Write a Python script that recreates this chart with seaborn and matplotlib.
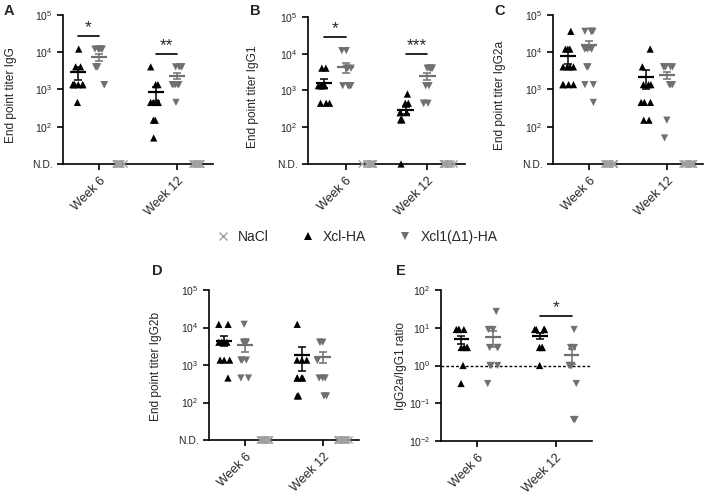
import numpy as np
import pandas as pd
import matplotlib
matplotlib.use("Agg")
import matplotlib.pyplot as plt
import seaborn as sns
from matplotlib.lines import Line2D
from matplotlib.ticker import FixedLocator, FixedFormatter, NullLocator

np.random.seed(3)  # fixed jitter

ND = 10  # "not detected" titers sit on the x axis line

weeks = ["Week 6", "Week 12"]
groups = ["Xcl-HA", "Xcl1(Δ1)-HA", "NaCl"]
colors = {"Xcl-HA": "black", "Xcl1(Δ1)-HA": "#707070", "NaCl": "#a0a0a0"}
markers = {"Xcl-HA": "^", "Xcl1(Δ1)-HA": "v", "NaCl": "x"}

nacl_w6 = [ND, ND, ND, ND, ND, ND, ND, ND, ND, ND]
nacl_w12 = [ND, ND, ND, ND, ND, ND, ND, ND, ND, ND]

# A - IgG
igg_w6_xcl = [12150, 4050, 4050, 1350, 1350, 1350, 1350, 1350, 1350, 450]
igg_w6_xcl1 = [12150, 12150, 12150, 12150, 12150, 4050, 4050, 4050, 1350, 1350]
igg_w12_xcl = [4050, 1350, 1350, 450, 450, 450, 450, 450, 150, 150, 50]
igg_w12_xcl1 = [4050, 4050, 4050, 4050, 1350, 1350, 1350, 1350, 1350, 450]

# B - IgG1
igg1_w6_xcl = [4050, 4050, 1350, 1350, 1350, 1350, 1350, 450, 450, 450]
igg1_w6_xcl1 = [12150, 12150, 4050, 4050, 4050, 1350, 1350, 1350, 1350, 1350]
igg1_w12_xcl = [800, 450, 450, 250, 250, 250, 160, 160, 160, ND]
igg1_w12_xcl1 = [4050, 4050, 4050, 4050, 4050, 1350, 1350, 450, 450, 450]

# C - IgG2a
igg2a_w6_xcl = [36450, 12150, 12150, 12150, 4050, 4050, 4050, 4050, 1350, 1350, 1350, 1350]
igg2a_w6_xcl1 = [36450, 36450, 36450, 36450, 12150, 12150, 12150, 4050, 4050, 1350, 1350, 450]
igg2a_w12_xcl = [12150, 4050, 1350, 1350, 1350, 450, 450, 450, 150, 150]
igg2a_w12_xcl1 = [4050, 4050, 4050, 4050, 4050, 1350, 1350, 1350, 150, 50]

# D - IgG2b
igg2b_w6_xcl = [12150, 12150, 4050, 4050, 4050, 4050, 1350, 1350, 1350, 450]
igg2b_w6_xcl1 = [12150, 4050, 4050, 4050, 4050, 1350, 1350, 1350, 450, 450]
igg2b_w12_xcl = [12150, 1350, 1350, 1350, 450, 450, 450, 450, 150, 150]
igg2b_w12_xcl1 = [4050, 4050, 4050, 1350, 1350, 450, 450, 450, 150, 150]

# E - IgG2a/IgG1 ratio
ratio_w6_xcl = [9, 9, 9, 9, 3, 3, 3, 3, 1, 1 / 3]
ratio_w6_xcl1 = [27, 9, 9, 3, 3, 3, 1, 1, 1, 1 / 3]
ratio_w12_xcl = [9, 9, 9, 9, 9, 3, 3, 3, 1]
ratio_w12_xcl1 = [9, 3, 3, 1, 1, 1, 1, 1 / 3, 1 / 27, 1 / 27]

titer_ticks = [ND, 1e2, 1e3, 1e4, 1e5]
titer_labels = ["N.D.", "$10^2$", "$10^3$", "$10^4$", "$10^5$"]
ratio_ticks = [1e-2, 1e-1, 1, 1e1, 1e2]
ratio_labels = ["$10^{-2}$", "$10^{-1}$", "$10^0$", "$10^1$", "$10^2$"]

sns.set_style("ticks")
plt.rcParams["font.family"] = ["Liberation Sans", "DejaVu Sans"]
plt.rcParams["mathtext.fontset"] = "custom"
plt.rcParams["mathtext.rm"] = "Liberation Sans"
plt.rcParams["mathtext.it"] = "Liberation Sans:italic"
plt.rcParams["mathtext.bf"] = "Liberation Sans:bold"


def draw_panel(ax, series, levels, ylabel, yticks, yticklabels, stars=(), refline=None,
               label_y=0.46):
    rows = [(w, g, v) for (w, g), vals in series.items() for v in vals]
    df = pd.DataFrame(rows, columns=["week", "group", "value"])

    ax.set_yscale("log")
    if refline is not None:
        ax.axhline(refline, color="black", lw=1, ls=(0, (2, 1.5)), zorder=0)

    for g in levels:
        sub = df[df["group"] == g]
        sns.stripplot(data=sub, x="week", y="value", hue="group", order=weeks,
                      hue_order=levels, dodge=True, palette=colors,
                      jitter=0.075 * len(levels), marker=markers[g], size=5.2,
                      linewidth=1.0 if markers[g] == "x" else 0,
                      legend=False, ax=ax)
    for coll in ax.collections:
        coll.set_clip_on(False)

    # mean +/- SEM, same dodge offsets as the strips
    step = 0.8 / len(levels)
    offsets = {g: -0.4 + step / 2 + k * step for k, g in enumerate(levels)}
    stats = (df[df["group"] != "NaCl"].groupby(["week", "group"])["value"]
             .agg(["mean", "sem"]).reset_index())
    for _, r in stats.iterrows():
        x = weeks.index(r["week"]) + offsets[r["group"]]
        c = colors[r["group"]]
        ax.hlines(r["mean"], x - 0.1, x + 0.1, color=c, lw=1.6, zorder=5)
        ax.errorbar(x, r["mean"], yerr=r["sem"], color=c, lw=1.1, capsize=3,
                    capthick=1.1, zorder=5)

    for week_i, y, txt in stars:
        x1 = week_i + offsets["Xcl-HA"]
        x2 = week_i + offsets["Xcl1(Δ1)-HA"]
        ax.plot([x1, x2], [y, y], color="black", lw=1.2, clip_on=False)
        ax.text((x1 + x2) / 2, y * 1.05, txt, ha="center", va="bottom", fontsize=12.5)

    ax.set_ylim(yticks[0], yticks[-1])
    ax.yaxis.set_major_locator(FixedLocator(yticks))
    ax.yaxis.set_major_formatter(FixedFormatter(yticklabels))
    ax.yaxis.set_minor_locator(NullLocator())
    ax.set_xlim(-0.46, 1.46)
    ax.set_xlabel("")
    ax.set_ylabel(ylabel, fontsize=8.6)
    ax.yaxis.set_label_coords(-0.31, label_y)
    plt.setp(ax.get_xticklabels(), rotation=45, ha="right", rotation_mode="anchor",
             fontsize=9)
    ax.tick_params(axis="y", labelsize=7.5)
    ax.tick_params(length=4, width=1.2, color="black")
    sns.despine(ax=ax)
    for s in ["left", "bottom"]:
        ax.spines[s].set_linewidth(1.2)
        ax.spines[s].set_color("black")


fig = plt.figure(figsize=(7.1, 4.96), dpi=100)
W, H = 710, 496


def add_axes(left, right, top, bottom):
    return fig.add_axes([left / W, 1 - bottom / H, (right - left) / W, (bottom - top) / H])


ax_a = add_axes(63, 213, 15, 164)
ax_b = add_axes(308, 465, 17, 164)
ax_c = add_axes(553, 703, 15, 164)
ax_d = add_axes(209, 359, 290, 440)
ax_e = add_axes(441, 592, 290, 441)

draw_panel(ax_a, {("Week 6", "Xcl-HA"): igg_w6_xcl, ("Week 6", "Xcl1(Δ1)-HA"): igg_w6_xcl1,
                  ("Week 6", "NaCl"): nacl_w6,
                  ("Week 12", "Xcl-HA"): igg_w12_xcl, ("Week 12", "Xcl1(Δ1)-HA"): igg_w12_xcl1,
                  ("Week 12", "NaCl"): nacl_w12},
           groups, "End point titer IgG", titer_ticks, titer_labels,
           stars=[(0, 2.8e4, "*"), (1, 8.9e3, "**")])
draw_panel(ax_b, {("Week 6", "Xcl-HA"): igg1_w6_xcl, ("Week 6", "Xcl1(Δ1)-HA"): igg1_w6_xcl1,
                  ("Week 6", "NaCl"): nacl_w6,
                  ("Week 12", "Xcl-HA"): igg1_w12_xcl, ("Week 12", "Xcl1(Δ1)-HA"): igg1_w12_xcl1,
                  ("Week 12", "NaCl"): nacl_w12},
           groups, "End point titer IgG1", titer_ticks, titer_labels,
           stars=[(0, 2.9e4, "*"), (1, 1.0e4, "***")])
draw_panel(ax_c, {("Week 6", "Xcl-HA"): igg2a_w6_xcl, ("Week 6", "Xcl1(Δ1)-HA"): igg2a_w6_xcl1,
                  ("Week 6", "NaCl"): nacl_w6,
                  ("Week 12", "Xcl-HA"): igg2a_w12_xcl, ("Week 12", "Xcl1(Δ1)-HA"): igg2a_w12_xcl1,
                  ("Week 12", "NaCl"): nacl_w12},
           groups, "End point titer IgG2a", titer_ticks, titer_labels)
draw_panel(ax_d, {("Week 6", "Xcl-HA"): igg2b_w6_xcl, ("Week 6", "Xcl1(Δ1)-HA"): igg2b_w6_xcl1,
                  ("Week 6", "NaCl"): nacl_w6,
                  ("Week 12", "Xcl-HA"): igg2b_w12_xcl, ("Week 12", "Xcl1(Δ1)-HA"): igg2b_w12_xcl1,
                  ("Week 12", "NaCl"): nacl_w12},
           groups, "End point titer IgG2b", titer_ticks, titer_labels, label_y=0.49)
draw_panel(ax_e, {("Week 6", "Xcl-HA"): ratio_w6_xcl, ("Week 6", "Xcl1(Δ1)-HA"): ratio_w6_xcl1,
                  ("Week 12", "Xcl-HA"): ratio_w12_xcl, ("Week 12", "Xcl1(Δ1)-HA"): ratio_w12_xcl1},
           groups[:2], "IgG2a/IgG1 ratio", ratio_ticks, ratio_labels,
           stars=[(1, 20, "*")], refline=1, label_y=0.5)
ax_e.yaxis.set_label_coords(-0.225, 0.5)

for letter, x, y in [("A", 9, 11), ("B", 255, 11), ("C", 500, 11), ("D", 157, 271), ("E", 401, 271)]:
    fig.text(x / W, 1 - y / H, letter, fontsize=10.5, fontweight="bold", ha="center", va="center")

handles = [Line2D([], [], ls="none", marker=markers[g], color=colors[g],
                  markersize=6, markeredgewidth=1 if g == "NaCl" else 0)
           for g in ["NaCl", "Xcl-HA", "Xcl1(Δ1)-HA"]]
fig.legend(handles, ["NaCl", "Xcl-HA", "Xcl1(Δ1)-HA"], loc="center",
           bbox_to_anchor=(356 / W, 1 - 237 / H), ncol=3, frameon=False,
           fontsize=10, handletextpad=0.5, columnspacing=2.2, handlelength=1.2)

fig.savefig("out.png", dpi=100)
